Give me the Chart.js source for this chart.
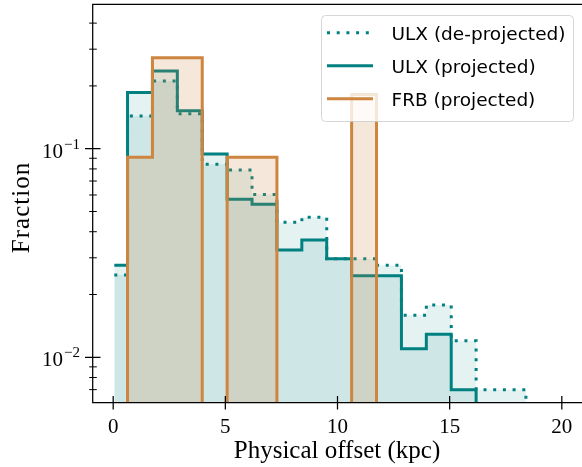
<!DOCTYPE html>
<html>
<head>
<meta charset="utf-8">
<script src="https://cdn.jsdelivr.net/npm/chart.js@4.4.1/dist/chart.umd.min.js"></script>
<style>
    html, body { margin: 0; padding: 0; background: #fff; }
    #wrap { width: 582px; height: 467px; }
</style>
</head>
<body>
<div id="wrap"><canvas id="offsetChart" width="582" height="467"></canvas></div>
<script>
// Histogram bin edges (kpc) and per-bin fractions
const binEdges = [0.05, 0.64, 1.75, 2.86, 3.97, 5.08, 6.19, 7.30, 8.41, 9.52, 10.63, 11.74, 12.85, 13.96, 15.07, 16.18, 17.29, 18.40];
const ulxDeprojected = [0.0248, 0.1435, 0.211, 0.147, 0.0842, 0.079, 0.0604, 0.0444, 0.0469, 0.0297, 0.0297, 0.0276, 0.0159, 0.0178, 0.0120, 0.0070, 0.0070];
const ulxProjected = [0.0276, 0.186, 0.236, 0.152, 0.0943, 0.0572, 0.0541, 0.0327, 0.0365, 0.0297, 0.0246, 0.0246, 0.0110, 0.0129, 0.0070, 0, 0];
const frbProjected = [0, 0.0909, 0.2727, 0.2727, 0, 0.0909, 0.0909, 0, 0, 0, 0.1818, 0, 0, 0, 0, 0, 0];

const seriesLabels = ['ULX (de-projected)', 'ULX (projected)', 'FRB (projected)'];
const xTicks = [0, 5, 10, 15, 20];
const yMajorTicks = [0.01, 0.1];
const yMajorExponents = ['\u22122', '\u22121'];
const yMinorTicks = [0.007, 0.008, 0.009, 0.02, 0.03, 0.04, 0.05, 0.06, 0.07, 0.08, 0.09, 0.2, 0.3, 0.4];
const xTitle = 'Physical offset (kpc)';
const yTitle = 'Fraction';

const TEAL = '#008080';
const ORANGE = '#cd853f';
const FLOOR = 1e-4; // empty bins drop below the axis, like log(0)
const DOTS = [3, 6.7];

function stepPoints(values) {
    const pts = [];
    values.forEach(function(v, i) {
        pts.push({x: binEdges[i], y: v > 0 ? v : FLOOR});
    });
    const last = values[values.length - 1];
    pts.push({x: binEdges[values.length], y: last > 0 ? last : FLOOR});
    pts.push({x: binEdges[values.length], y: FLOOR});
    return pts;
}

function stepDataset(label, values, color, fillColor, dash, order) {
    return {
        label: label,
        data: stepPoints(values),
        borderColor: color,
        backgroundColor: fillColor,
        borderWidth: 3,
        borderDash: dash,
        borderCapStyle: 'butt',
        borderJoinStyle: 'miter',
        stepped: 'before',
        fill: 'start',
        pointRadius: 0,
        pointHoverRadius: 0,
        tension: 0,
        clip: 0,
        order: order
    };
}

const axesPlugin = {
    id: 'mplAxes',
    afterDraw(chart) {
        const ctx = chart.ctx;
        const a = chart.chartArea;
        const xs = chart.scales.x;
        const ys = chart.scales.y;
        ctx.save();

        // spines (right one is cut off in the original)
        ctx.strokeStyle = '#000';
        ctx.lineWidth = 1.25;
        ctx.beginPath();
        ctx.moveTo(a.left - 0.3, a.bottom);
        ctx.lineTo(a.left - 0.3, a.top + 0.3);
        ctx.lineTo(a.right, a.top + 0.3);
        ctx.moveTo(a.left - 0.9, a.bottom - 0.3);
        ctx.lineTo(a.right, a.bottom - 0.3);
        ctx.stroke();

        // ticks, direction "inout"
        ctx.beginPath();
        ctx.lineWidth = 1.25;
        yMajorTicks.forEach(function(v) {
            const py = ys.getPixelForValue(v);
            ctx.moveTo(a.left - 8, py);
            ctx.lineTo(a.left + 7.5, py);
        });
        xTicks.forEach(function(v) {
            const px = xs.getPixelForValue(v);
            ctx.moveTo(px, a.bottom - 7);
            ctx.lineTo(px, a.bottom + 6.5);
        });
        ctx.stroke();
        ctx.beginPath();
        ctx.lineWidth = 1;
        yMinorTicks.forEach(function(v) {
            const py = ys.getPixelForValue(v);
            if (py < a.top || py > a.bottom) return;
            ctx.moveTo(a.left - 3.8, py);
            ctx.lineTo(a.left + 3.8, py);
        });
        ctx.stroke();

        // tick labels
        ctx.fillStyle = '#000';
        ctx.font = '21px "Liberation Serif", serif';
        ctx.textAlign = 'center';
        ctx.textBaseline = 'alphabetic';
        xTicks.forEach(function(v) {
            ctx.fillText(String(v), xs.getPixelForValue(v), 433);
        });
        yMajorTicks.forEach(function(v, i) {
            const py = ys.getPixelForValue(v);
            ctx.font = '15px "Liberation Serif", serif';
            ctx.textAlign = 'right';
            const supW = ctx.measureText(yMajorExponents[i]).width;
            ctx.fillText(yMajorExponents[i], 80, py);
            ctx.font = '21px "Liberation Serif", serif';
            ctx.fillText('10', 80 - supW - 1, py + 9);
        });

        // axis titles
        ctx.font = '25px "Liberation Serif", serif';
        ctx.textAlign = 'center';
        ctx.fillText(xTitle, (a.left + 581) / 2, 458);
        ctx.save();
        ctx.translate(29, (a.top + a.bottom) / 2 + 4);
        ctx.rotate(-Math.PI / 2);
        ctx.letterSpacing = '1px';
        ctx.fillText(yTitle, 0, 0);
        ctx.restore();

        // legend
        const lx = 321, ly = 15, lw = 252, lh = 106, r = 4;
        ctx.beginPath();
        ctx.roundRect(lx + 0.5, ly + 0.5, lw, lh, r);
        ctx.fillStyle = 'rgba(255,255,255,0.8)';
        ctx.fill();
        ctx.strokeStyle = 'rgba(204,204,204,0.8)';
        ctx.lineWidth = 1;
        ctx.stroke();

        const rows = [
            {color: TEAL, dash: DOTS},
            {color: TEAL, dash: []},
            {color: ORANGE, dash: []}
        ];
        ctx.font = '18.5px "DejaVu Sans", sans-serif';
        ctx.textAlign = 'left';
        rows.forEach(function(row, i) {
            const cy = 32.7 + i * 33;
            ctx.beginPath();
            ctx.strokeStyle = row.color;
            ctx.lineWidth = 3;
            ctx.lineCap = 'butt';
            ctx.setLineDash(row.dash);
            ctx.moveTo(327, cy);
            ctx.lineTo(373, cy);
            ctx.stroke();
            ctx.setLineDash([]);
            ctx.fillStyle = '#000';
            ctx.fillText(seriesLabels[i], 391.5, cy + 7.5);
        });
        ctx.restore();
    }
};

new Chart(document.getElementById('offsetChart').getContext('2d'), {
    type: 'line',
    data: {
        datasets: [
            stepDataset(seriesLabels[2], frbProjected, ORANGE, 'rgba(205,133,63,0.2)', [], 1),
            stepDataset(seriesLabels[1], ulxProjected, TEAL, 'rgba(0,128,128,0.1)', [], 2),
            stepDataset(seriesLabels[0], ulxDeprojected, TEAL, 'rgba(0,128,128,0.1)', DOTS, 3)
        ]
    },
    options: {
        responsive: false,
        animation: false,
        devicePixelRatio: 1,
        layout: {padding: {left: 93, top: 4, right: 0, bottom: 64}},
        plugins: {
            legend: {display: false},
            tooltip: {enabled: false}
        },
        scales: {
            x: {type: 'linear', min: -0.9, max: 20.9, display: false},
            y: {type: 'logarithmic', min: 0.00604, max: 0.494, display: false}
        }
    },
    plugins: [axesPlugin]
});
</script>
</body>
</html>
